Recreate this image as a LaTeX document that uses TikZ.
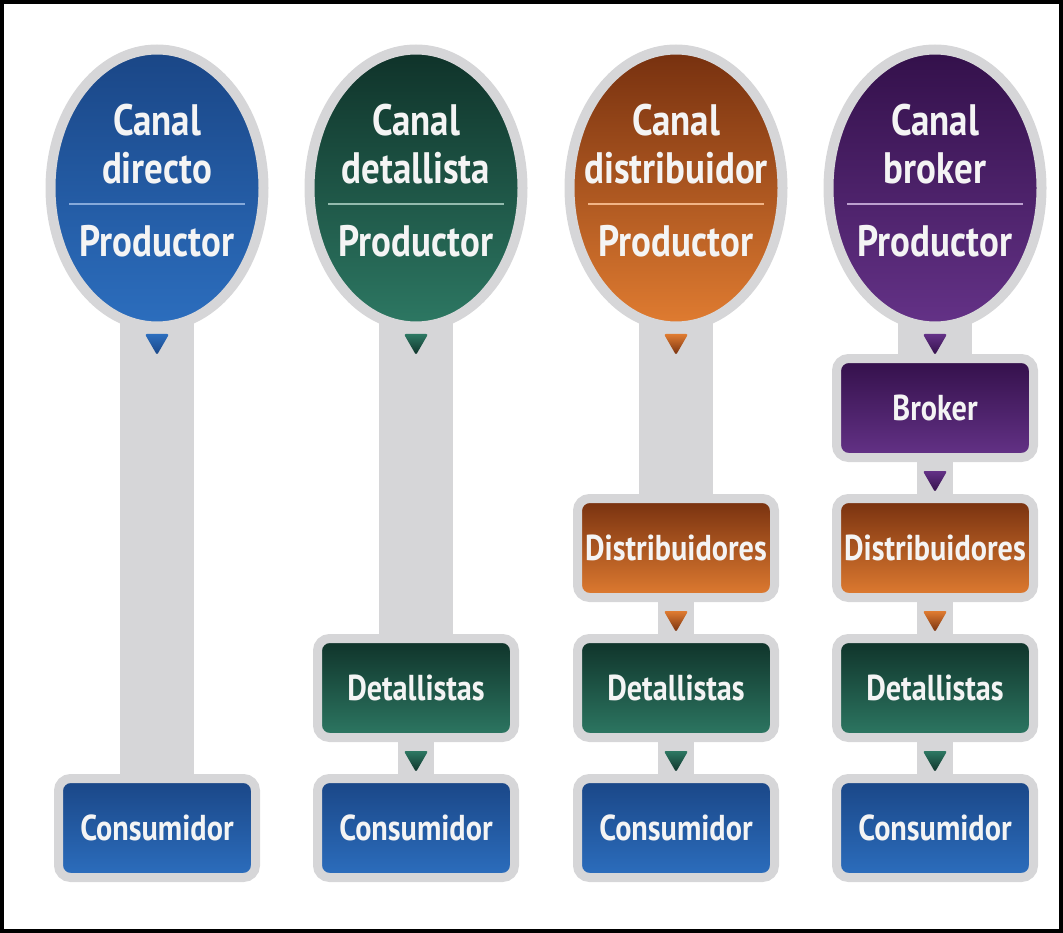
\documentclass[tikz,border=0pt]{standalone}
\usepackage{fontspec}
\setmainfont{PT Sans}[FakeStretch=0.84, UprightFont=*, BoldFont=* Bold]
\usetikzlibrary{shapes.geometric,backgrounds}

\definecolor{ringgray}{HTML}{D6D6D8}
\definecolor{blueTop}{HTML}{1A4686}
\definecolor{blueBot}{HTML}{2C6EBE}
\definecolor{greenTop}{HTML}{0F3229}
\definecolor{greenBot}{HTML}{2D7863}
\definecolor{orangeTop}{HTML}{76300F}
\definecolor{orangeBot}{HTML}{E07C31}
\definecolor{purpleTop}{HTML}{33104A}
\definecolor{purpleBot}{HTML}{643287}
\definecolor{blueLine}{HTML}{86AADA}
\definecolor{greenLine}{HTML}{93BBAE}
\definecolor{orangeLine}{HTML}{F2B486}
\definecolor{purpleLine}{HTML}{BDA0CF}
\definecolor{labelwhite}{HTML}{F4F4F4}

\newcommand\canalfont{\fontsize{44}{48}\selectfont\bfseries}
\newcommand\etiqfont{\fontsize{36}{40}\selectfont\bfseries}

\tikzset{
    head/.style 2 args={ellipse, minimum width=213, minimum height=277, inner sep=0,
        draw=ringgray, line width=10, top color=#1, bottom color=#2},
    etapa/.style 2 args={rectangle, rounded corners=12, minimum width=197, minimum height=99,
        inner sep=0, draw=ringgray, line width=9, top color=#1, bottom color=#2,
        text=labelwhite, font=\etiqfont},
    tri/.style 2 args={regular polygon, regular polygon sides=3, shape border rotate=180,
        minimum size=28, inner sep=0, rounded corners=2, top color=#1, bottom color=#2},
    titulo/.style={text=labelwhite, font=\canalfont, align=center, inner sep=0},
    divider/.style={draw=#1, line width=2},
    stem/.style={draw=ringgray, line width=74},
    neck/.style={draw=ringgray, line width=36},
}

\begin{document}
\begin{tikzpicture}[x=1pt, y=-1pt]
    \useasboundingbox (0,0) rectangle (1063,933);

    % Draw cabeceras (productor)
    \node[head={blueTop}{blueBot}]     (p1) at (157,188) {};
    \node[head={greenTop}{greenBot}]   (p2) at (416,188) {};
    \node[head={orangeTop}{orangeBot}] (p3) at (676,188) {};
    \node[head={purpleTop}{purpleBot}] (p4) at (935,188) {};

    % Titulos
    \node[titulo] (c1) at (157,144) {Canal\\directo};
    \node[titulo] (c2) at (416,144) {Canal\\detallista};
    \node[titulo] (c3) at (676,144) {Canal\\distribuidor};
    \node[titulo] (c4) at (935,144) {Canal\\broker};

    \draw[divider=blueLine]   (69,204) -- (245,204);
    \draw[divider=greenLine]  (328,204) -- (504,204);
    \draw[divider=orangeLine] (588,204) -- (764,204);
    \draw[divider=purpleLine] (847,204) -- (1023,204);

    \node[titulo] (r1) at (157,241) {Productor};
    \node[titulo] (r2) at (416,241) {Productor};
    \node[titulo] (r3) at (676,241) {Productor};
    \node[titulo] (r4) at (935,241) {Productor};

    % Flechas bajo las cabeceras
    \node[tri={blueBot}{blueTop}]     (a1) at (157,341) {};
    \node[tri={greenBot}{greenTop}]   (a2) at (416,341) {};
    \node[tri={orangeBot}{orangeTop}] (a3) at (676,341) {};
    \node[tri={purpleBot}{purpleTop}] (a4) at (935,341) {};

    % Draw etapas
    \node[etapa={blueTop}{blueBot}] (k1) at (157,828) {Consumidor};

    \node[etapa={greenTop}{greenBot}] (d2) at (416,688) {Detallistas};
    \node[etapa={blueTop}{blueBot}]   (k2) at (416,828) {Consumidor};

    \node[etapa={orangeTop}{orangeBot}] (s3) at (676,548) {Distribuidores};
    \node[etapa={greenTop}{greenBot}]   (d3) at (676,688) {Detallistas};
    \node[etapa={blueTop}{blueBot}]     (k3) at (676,828) {Consumidor};

    \node[etapa={purpleTop}{purpleBot}] (b4) at (935,408) {Broker};
    \node[etapa={orangeTop}{orangeBot}] (s4) at (935,548) {Distribuidores};
    \node[etapa={greenTop}{greenBot}]   (d4) at (935,688) {Detallistas};
    \node[etapa={blueTop}{blueBot}]     (k4) at (935,828) {Consumidor};

    % Draw conectores (detras)
    \begin{scope}[on background layer]
        \draw[stem] (p1.center) -- (k1.center);
        \draw[stem] (p2.center) -- (d2.center);
        \draw[stem] (p3.center) -- (s3.center);
        \draw[stem] (p4.center) -- (b4.center);

        \draw[neck] (d2.center) -- node[tri={greenBot}{greenTop}] (e2) {} (k2.center);

        \draw[neck] (s3.center) -- node[tri={orangeBot}{orangeTop}] (f3) {} (d3.center);
        \draw[neck] (d3.center) -- node[tri={greenBot}{greenTop}] (e3) {} (k3.center);

        \draw[neck] (b4.center) -- node[tri={purpleBot}{purpleTop}] (g4) {} (s4.center);
        \draw[neck] (s4.center) -- node[tri={orangeBot}{orangeTop}] (f4) {} (d4.center);
        \draw[neck] (d4.center) -- node[tri={greenBot}{greenTop}] (e4) {} (k4.center);
    \end{scope}

    % Marco
    \draw[line width=4] (2,2) rectangle (1061,931);

\end{tikzpicture}
\end{document}
